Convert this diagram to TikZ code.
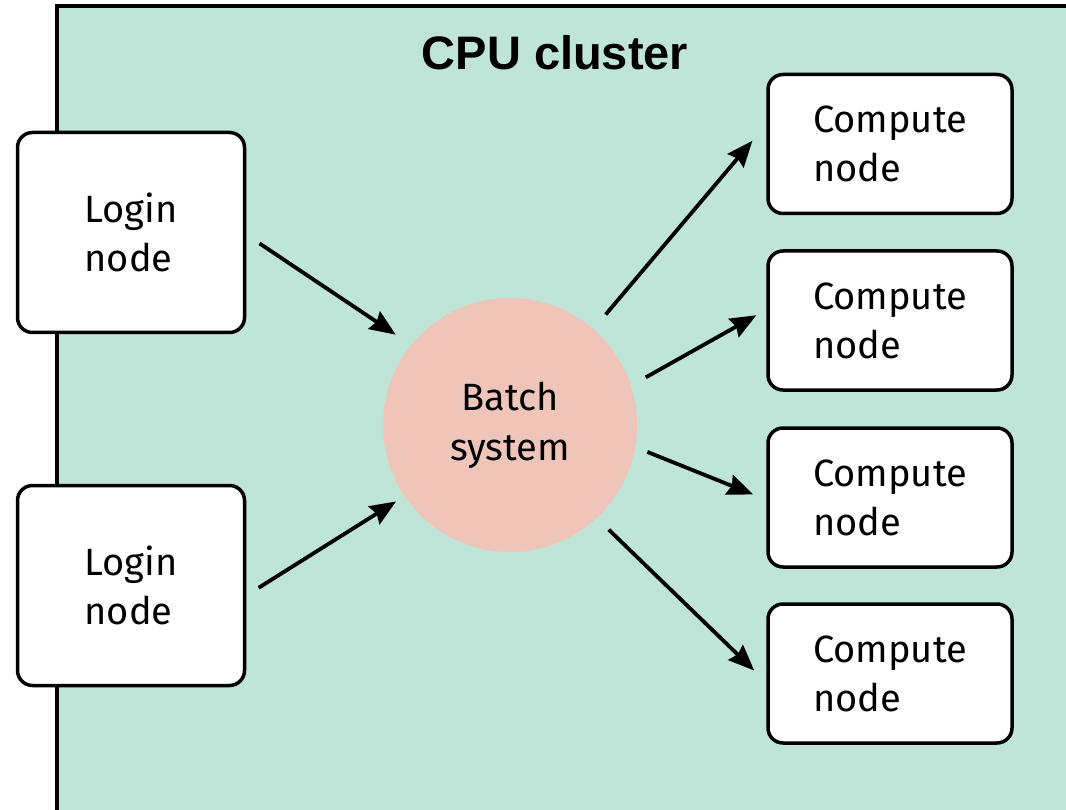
\documentclass[tikz,border=0pt]{standalone}
\usepackage{fontspec}
\setmainfont{Fira Sans}
\newfontfamily\titlefont{Liberation Sans}
\usetikzlibrary{arrows.meta}
\definecolor{ClusterGreen}{RGB}{191,228,216}
\definecolor{BatchPink}{RGB}{240,197,185}
\tikzset{
  hostbox/.style={draw,line width=3.5pt,rounded corners=15pt,fill=white,
    align=left,inner sep=0pt,font=\fontsize{38}{49}\selectfont},
  flow/.style={-{Stealth[length=26pt,width=21pt,inset=3pt]},line width=3.8pt},
}
\begin{document}
\begin{tikzpicture}[x=1pt,y=-1pt]
  \useasboundingbox (0,0) rectangle (1066,810);
  \clip (0,0) rectangle (1066,810);
  % cluster frame
  \draw[fill=ClusterGreen,line width=3.5pt] (57,6) rectangle (1100,850);
  \node[font=\titlefont\bfseries\fontsize{47}{56}\selectfont] (title) at (555,53) {CPU cluster};
  % login nodes
  \node[hostbox,minimum width=227pt,minimum height=200pt] (login1) at (131,232.5) {Login\\node};
  \node[hostbox,minimum width=227pt,minimum height=200pt] (login2) at (131,585.5) {Login\\node};
  % batch system
  \node[circle,fill=BatchPink,minimum size=254pt,inner sep=0pt,align=center,
    font=\fontsize{38}{50}\selectfont] (batch) at (510,425) {Batch\\system};
  % compute nodes
  \foreach \i/\y in {1/144,2/320.5,3/497.5,4/673.5}
    \node[hostbox,minimum width=244pt,minimum height=139pt] (compute\i) at (890,\y) {Compute\\node};
  % arrows
  \draw[flow,shorten <=16pt,shorten >=18.5pt] (login1.-1) -- (batch.141.7);
  \draw[flow,shorten <=14.7pt,shorten >=10pt] (login2.-5.7) -- (batch.214.5);
  \foreach \i/\a/\b/\s/\e in {1/49.5/171.5/19/21.5,2/18.9/175.4/17/11.4,3/-10.5/181.2/13/14,4/-47.4/184.7/16.7/16.7}
    \draw[flow,shorten <=\s pt,shorten >=\e pt] (batch.\a) -- (compute\i.\b);
\end{tikzpicture}
\end{document}
